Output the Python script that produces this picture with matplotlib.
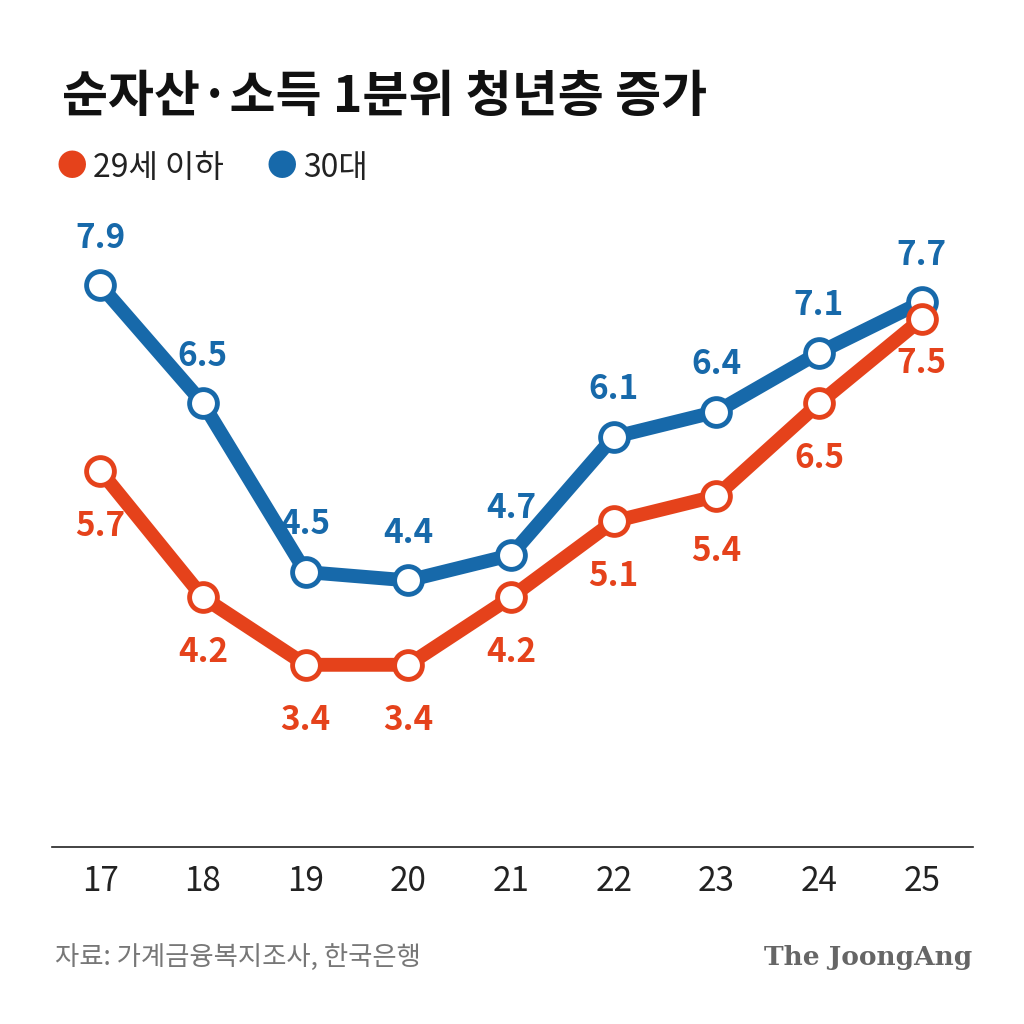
import matplotlib
matplotlib.use("Agg")
import matplotlib.pyplot as plt

plt.rcParams['font.family'] = ['Noto Sans CJK KR', 'DejaVu Sans']

years = [17, 18, 19, 20, 21, 22, 23, 24, 25]
under29 = [5.7, 4.2, 3.4, 3.4, 4.2, 5.1, 5.4, 6.5, 7.5]
thirties = [7.9, 6.5, 4.5, 4.4, 4.7, 6.1, 6.4, 7.1, 7.7]
tick_labels = ["17", "18", "19", "20", "21", "22", "23", "24", "25"]

RED = "#E5421B"
BLUE = "#1769AA"

fig = plt.figure(figsize=(10.24, 10.24), dpi=100)
ax = fig.add_axes([52/1024, 1-847/1024, 921/1024, 647/1024])
ax.set_xlim(16.53, 25.5)
ax.set_ylim(1.24, 8.91)

for vals, c, z in [(thirties, BLUE, 2), (under29, RED, 3)]:
    ax.plot(years, vals, color=c, lw=10, zorder=z, solid_capstyle='round')
    ax.plot(years, vals, 'o', ms=20, mfc='white', mec=c, mew=3.5, zorder=z+0.5)

for x, v in zip(years, thirties):
    ax.annotate(f"{v}", (x, v), xytext=(0, 22), textcoords='offset points',
                ha='center', va='bottom', fontsize=24, fontweight='bold', color=BLUE)
for x, v in zip(years, under29):
    off = -20 if x == 25 else -28
    ax.annotate(f"{v}", (x, v), xytext=(0, off), textcoords='offset points',
                ha='center', va='top', fontsize=24, fontweight='bold', color=RED)

for s in ['top', 'right', 'left']:
    ax.spines[s].set_visible(False)
ax.spines['bottom'].set_linewidth(1.2)
ax.spines['bottom'].set_color('#222222')
ax.set_yticks([])
ax.set_xticks(years)
ax.set_xticklabels(tick_labels, fontsize=24, color='#222222')
ax.tick_params(axis='x', length=0, pad=12)

fig.text(62/1024, 1-98/1024, "순자산·소득 1분위 청년층 증가", fontsize=36, fontweight='bold',
         va='center', ha='left', color='#111111')
fig.text(72/1024, 1-168/1024, "●", color=RED, fontsize=22, va='center', ha='center')
fig.text(93/1024, 1-168/1024, "29세 이하", color='#222222', fontsize=23, va='center', ha='left')
fig.text(282/1024, 1-168/1024, "●", color=BLUE, fontsize=22, va='center', ha='center')
fig.text(303/1024, 1-168/1024, "30대", color='#222222', fontsize=23, va='center', ha='left')

fig.text(55/1024, 1-957/1024, "자료: 가계금융복지조사, 한국은행", color='#777777', fontsize=19,
         va='center', ha='left')
fig.text(972/1024, 1-957/1024, "The JoongAng", color='#666666', fontsize=19, fontweight='bold',
         family='DejaVu Serif', va='center', ha='right')

fig.savefig("out.png", dpi=100, facecolor='white')
